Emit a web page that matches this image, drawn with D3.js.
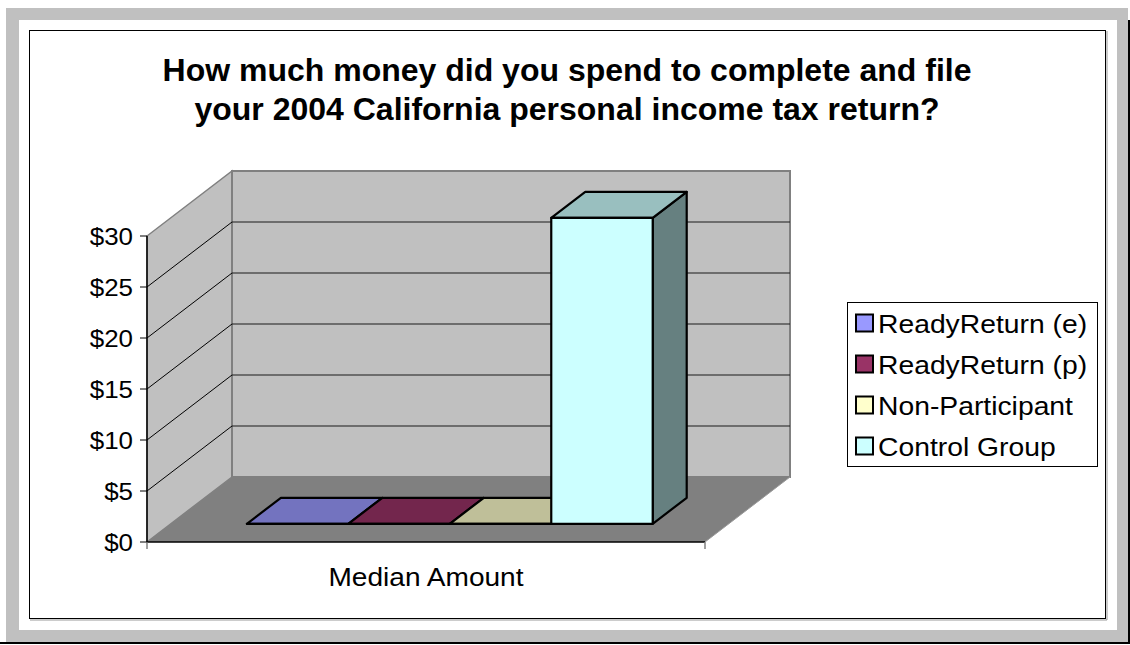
<!DOCTYPE html>
<html>
<head>
<meta charset="utf-8">
<script src="https://cdn.jsdelivr.net/npm/d3@7"></script>
<style>
  html, body { margin: 0; padding: 0; background: #ffffff; }
  svg { display: block; }
  text { font-family: Arial, "Liberation Sans", sans-serif; fill: #000; }
</style>
</head>
<body>
<svg id="chart" width="1130" height="645"></svg>
<script>
// ---- data ----
const titleLines = [
  "How much money did you spend to complete and file",
  "your 2004 California personal income tax return?"
];
const categories = ["Median Amount"];
const seriesNames = ["ReadyReturn (e)", "ReadyReturn (p)", "Non-Participant", "Control Group"];
const seriesValues = [0, 0, 0, 30];
const yTicks = [0, 5, 10, 15, 20, 25, 30];
const yTickLabels = ["$0", "$5", "$10", "$15", "$20", "$25", "$30"];

// ---- styling ----
const palette = ["#9999FF", "#993366", "#FFFFCC", "#CCFFFF"];
const WALL = "#C0C0C0", FLOOR = "#808080", EDGE = "#808080";

const svg = d3.select("#chart");

// page frame
svg.append("rect").attr("x", 6).attr("y", 8).attr("width", 1122).attr("height", 634).attr("fill", "#C0C0C0");
svg.append("rect").attr("x", 19).attr("y", 20).attr("width", 1098).attr("height", 610).attr("fill", "#ffffff");
svg.append("line").attr("x1", 0).attr("x2", 1130).attr("y1", 643).attr("y2", 643).attr("stroke", "#000").attr("stroke-width", 2);
svg.append("line").attr("x1", 1129).attr("x2", 1129).attr("y1", 20).attr("y2", 644).attr("stroke", "#000").attr("stroke-width", 2);

// chart area border
svg.append("line").attr("x1", 1107).attr("x2", 1107).attr("y1", 31).attr("y2", 620).attr("stroke", "#999").attr("stroke-width", 1);
svg.append("line").attr("x1", 30).attr("x2", 1107).attr("y1", 620).attr("y2", 620).attr("stroke", "#999").attr("stroke-width", 1);
svg.append("rect").attr("x", 29.5).attr("y", 30.5).attr("width", 1076).attr("height", 588)
  .attr("fill", "none").attr("stroke", "#000").attr("stroke-width", 1);

// title
svg.append("text")
  .attr("x", 567).attr("y", 81)
  .attr("text-anchor", "middle")
  .style("font-size", "32px").style("font-weight", "bold")
  .selectAll("tspan").data(titleLines).join("tspan")
  .attr("x", 567).attr("dy", (d, i) => i === 0 ? 0 : 39)
  .text(d => d);

// ---- 3D plot geometry ----
const DX = 85, DY = 65;          // wall depth offset
const plotLeft = 147, plotRight = 705;
const y = d3.scaleLinear().domain([0, 30]).range([542, 236]);
const proj = (x, yy, d) => [x + d * DX, yy - d * DY];
const poly = pts => "M" + pts.map(p => p.join(",")).join("L") + "Z";

const xOuter = d3.scaleBand().domain(categories).range([plotLeft, plotRight]).padding(0);
const xInner = d3.scaleBand().domain(seriesNames).range([0, xOuter.bandwidth()])
  .paddingInner(0).paddingOuter(0.75);

const g = svg.append("g");

// side wall
g.append("path")
  .attr("d", poly([proj(plotLeft, y(0), 0), proj(plotLeft, y(30), 0), proj(plotLeft, y(30), 1), proj(plotLeft, y(0), 1)]))
  .attr("fill", WALL).attr("stroke", EDGE).attr("stroke-width", 1.5);
// back wall
g.append("path")
  .attr("d", poly([proj(plotLeft, y(0), 1), proj(plotRight, y(0), 1), proj(plotRight, y(30), 1), proj(plotLeft, y(30), 1)]))
  .attr("fill", WALL).attr("stroke", EDGE).attr("stroke-width", 2);
// floor
g.append("path")
  .attr("d", poly([proj(plotLeft, y(0), 0), proj(plotRight, y(0), 0), proj(plotRight, y(0), 1), proj(plotLeft, y(0), 1)]))
  .attr("fill", FLOOR).attr("stroke", "none");
g.append("line")
  .attr("x1", proj(plotRight, y(0), 0)[0]).attr("y1", proj(plotRight, y(0), 0)[1])
  .attr("x2", proj(plotRight, y(0), 1)[0]).attr("y2", proj(plotRight, y(0), 1)[1])
  .attr("stroke", "#9a9a9a").attr("stroke-width", 1);

// gridlines on back wall and side wall
const inner = yTicks.filter(t => t > 0 && t < 30);
g.selectAll("line.grid-back").data(inner).join("line").attr("class", "grid-back")
  .attr("x1", d => proj(plotLeft, y(d), 1)[0]).attr("y1", d => proj(plotLeft, y(d), 1)[1])
  .attr("x2", d => proj(plotRight, y(d), 1)[0]).attr("y2", d => proj(plotRight, y(d), 1)[1])
  .attr("stroke", "#1a1a1a").attr("stroke-width", 1);
g.selectAll("line.grid-side").data(inner).join("line").attr("class", "grid-side")
  .attr("x1", d => proj(plotLeft, y(d), 0)[0]).attr("y1", d => proj(plotLeft, y(d), 0)[1])
  .attr("x2", d => proj(plotLeft, y(d), 1)[0]).attr("y2", d => proj(plotLeft, y(d), 1)[1])
  .attr("stroke", "#000").attr("stroke-width", 1);

// value axis
g.append("line").attr("x1", plotLeft).attr("x2", plotLeft).attr("y1", y(30)).attr("y2", y(0) + 1)
  .attr("stroke", "#000").attr("stroke-width", 1.5);
g.selectAll("line.ytick").data(yTicks).join("line").attr("class", "ytick")
  .attr("x1", plotLeft - 7).attr("x2", plotLeft).attr("y1", d => y(d)).attr("y2", d => y(d))
  .attr("stroke", "#000").attr("stroke-width", 1);
g.selectAll("text.ylab").data(yTicks).join("text").attr("class", "ylab")
  .attr("transform", d => `translate(133,${y(d) + 8.5}) scale(1.08,1)`)
  .attr("text-anchor", "end")
  .style("font-size", "24px")
  .text((d, i) => yTickLabels[i]);

// category axis
g.append("line").attr("x1", plotLeft).attr("x2", plotRight).attr("y1", y(0)).attr("y2", y(0))
  .attr("stroke", "#000").attr("stroke-width", 1.5);
g.selectAll("line.xtick").data([plotLeft, plotRight]).join("line").attr("class", "xtick")
  .attr("x1", d => d).attr("x2", d => d).attr("y1", y(0)).attr("y2", y(0) + 7)
  .attr("stroke", "#808080").attr("stroke-width", 1.5);
g.selectAll("text.xlab").data(categories).join("text").attr("class", "xlab")
  .attr("transform", d => `translate(${xOuter(d) + xOuter.bandwidth() / 2},586) scale(1.08,1)`)
  .attr("text-anchor", "middle")
  .style("font-size", "26px")
  .text(d => d);

// bars
const d0 = 0.28, d1 = 0.68;
const shade = (c, k) => { const r = d3.rgb(c); return d3.rgb(r.r * k, r.g * k, r.b * k).formatHex(); };
const barData = seriesNames.map((s, i) => ({ name: s, value: seriesValues[i], color: palette[i], cat: categories[0] }));

const bars = g.selectAll("g.bar").data(barData).join("g").attr("class", "bar");
bars.each(function (b) {
  const x0 = xOuter(b.cat) + xInner(b.name);
  const x1 = x0 + xInner.bandwidth();
  const yb = y(0), yt = y(b.value);
  const sel = d3.select(this);
  const common = s => s.attr("stroke", "#000").attr("stroke-width", 2.2).attr("stroke-linejoin", "round");
  common(sel.append("path")
    .attr("d", poly([proj(x1, yb, d0), proj(x1, yb, d1), proj(x1, yt, d1), proj(x1, yt, d0)]))
    .attr("fill", shade(b.color, 0.5)));
  common(sel.append("path")
    .attr("d", poly([proj(x0, yt, d0), proj(x1, yt, d0), proj(x1, yt, d1), proj(x0, yt, d1)]))
    .attr("fill", shade(b.color, 0.75)));
  common(sel.append("path")
    .attr("d", poly([proj(x0, yb, d0), proj(x1, yb, d0), proj(x1, yt, d0), proj(x0, yt, d0)]))
    .attr("fill", b.color));
});

// legend
const legend = svg.append("g");
legend.append("rect").attr("x", 847.5).attr("y", 302.5).attr("width", 250).attr("height", 164)
  .attr("fill", "#fff").attr("stroke", "#000").attr("stroke-width", 1);
const items = legend.selectAll("g.item").data(seriesNames).join("g").attr("class", "item")
  .attr("transform", (d, i) => `translate(0,${323 + i * 41})`);
items.append("rect").attr("x", 856).attr("y", -8.5).attr("width", 17).attr("height", 17)
  .attr("fill", (d, i) => palette[i]).attr("stroke", "#000").attr("stroke-width", 2);
items.append("text")
  .attr("transform", "translate(878,9.5) scale(1.11,1)")
  .style("font-size", "25.5px")
  .text(d => d);
</script>
</body>
</html>
